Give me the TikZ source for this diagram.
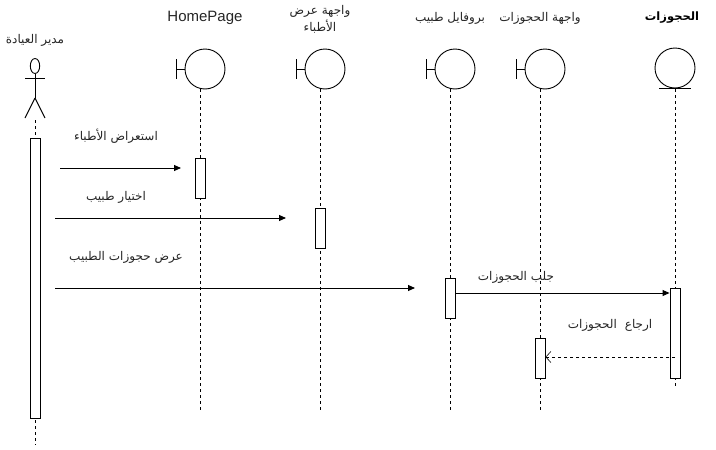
\documentclass[tikz,border=0pt]{standalone}
\usepackage{fontspec}
\setmainfont{Liberation Sans}
\newfontfamily\arabicfont[Script=Arabic]{DejaVu Sans}
\TeXXeTstate=1
\usetikzlibrary{arrows.meta}
\begin{document}
\begin{tikzpicture}[x=1pt,y=-1pt,
  line width=0.9pt,
  lifeline/.style={line width=0.8pt,dash pattern=on 3pt off 3pt},
  actbox/.style={draw,fill=white,line width=0.9pt,minimum width=10pt,inner sep=0pt,anchor=north},
  msg/.style={-{Triangle[length=7pt,width=6pt]}},
  reply/.style={dashed,dash pattern=on 3pt off 3pt,-{Straight Barb[length=5pt,width=11pt,line width=0.6pt]}},
  artext/.style={font=\arabicfont\fontsize{12}{17}\selectfont,text=black!85,inner sep=0pt,align=center},
  title/.style={font=\fontsize{15}{18}\selectfont,text=black!85,inner sep=0pt}]
\useasboundingbox (0,0) rectangle (716,450);

% ---------- Actor ----------
\draw (35,66) ellipse [x radius=4.7, y radius=7.5];
\draw (35,73.5) -- (35,98);
\draw (25,78) -- (45,78);
\draw (35,98) -- (25,118);
\draw (35,98) -- (45,118);
\node[artext] (tActor) at (35,40) {\arabicfont\beginR مدير العيادة\endR};
\coordinate (aTop) at (35,120);
\coordinate (aBot) at (35,445);
\draw[lifeline] (aTop) -- (aBot);
\node[actbox,minimum height=280pt] (actA) at (35,138) {};

% ---------- Boundary objects ----------
\foreach \cx/\nm in {200/hp,320/du,450/pr,540/bu}{
  \draw (\cx-24,59) -- (\cx-24,79);
  \draw (\cx-24,69) -- (\cx-15,69);
  \draw (\cx+5,69) circle (20);
  \draw[lifeline] (\cx,89) -- (\cx,410);
}
\node[title] (tHome) at (205,18) {HomePage};
\node[artext] (tDocs) at (320,19) {\arabicfont\beginR واجهة عرض\endR\\\arabicfont\beginR الأطباء\endR};
\node[artext] (tProf) at (450,18) {\arabicfont\beginR بروفايل طبيب\endR};
\node[artext] (tBookUI) at (540,18) {\arabicfont\beginR واجهة الحجوزات\endR};

% ---------- Entity ----------
\draw (675,68) circle (20);
\draw (659,88) -- (691,88);
\draw[lifeline] (675,89) -- (675,386);
\node[artext,font=\arabicfont\bfseries\fontsize{11.5}{13}\selectfont,text=black] (tEnt) at (672,18) {\arabicfont\beginR الحجوزات\endR};

% ---------- Activation boxes ----------
\node[actbox,minimum height=40pt] (actHP) at (200,158) {};
\node[actbox,minimum height=40pt] (actDU) at (320,208) {};
\node[actbox,minimum height=40pt] (actPR) at (450,278) {};
\node[actbox,minimum height=40pt] (actBU) at (540,338) {};
\node[actbox,minimum height=90pt] (actEN) at (675,288) {};

% ---------- Messages ----------
\coordinate (m1s) at (60,168);  \coordinate (m1e) at (181,168);
\draw[msg] (m1s) -- (m1e);
\node[artext] (l1) at (116,136) {\arabicfont\beginR استعراض الأطباء\endR};

\coordinate (m2s) at (55,218);  \coordinate (m2e) at (286,218);
\draw[msg] (m2s) -- (m2e);
\node[artext] (l2) at (116,197) {\arabicfont\beginR اختيار طبيب\endR};

\coordinate (m3s) at (55,288);  \coordinate (m3e) at (415,288);
\draw[msg] (m3s) -- (m3e);
\node[artext] (l3) at (126,257) {\arabicfont\beginR عرض حجوزات الطبيب\endR};

\draw[msg] (actPR.east |- 0,293) -- (actEN.west |- 0,293);
\node[artext] (l4) at (516,277) {\arabicfont\beginR جلب الحجوزات\endR};

\draw[reply] (675,357) -- (actBU.east |- 0,357);
\node[artext] (l5) at (610,325) {\arabicfont\beginR ارجاع\hspace{8pt}الحجوزات\endR};
\end{tikzpicture}
\end{document}
